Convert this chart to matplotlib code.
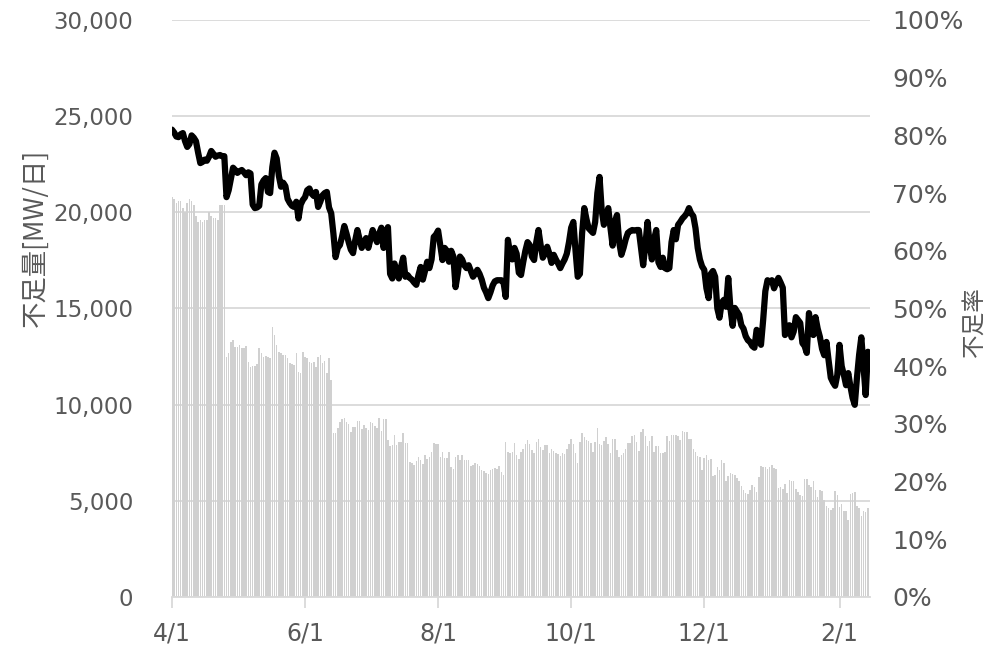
import pandas as pd
import matplotlib
matplotlib.use("Agg")
from matplotlib import pyplot as plt
from matplotlib.ticker import FuncFormatter

# daily shortage [MW/day], 4/1 .. 2/14
shortage = [
    20800, 20700, 20500, 20600, 20600, 20200, 20000, 20500, 20700, 20600,
    20400, 19800, 19500, 19600, 19500, 19600, 19600, 20000, 19800, 19700,
    19700, 19600, 20400, 20400, 20400,
    12500, 12700, 13260, 13360, 13000, 13000, 13100, 12950, 12950, 13050,
    12200, 11960, 12000, 12000, 12100, 12950, 12700, 12480, 12550, 12480,
    12400, 14040, 13620, 13100, 12740, 12700, 12580, 12580, 12400, 12170,
    12100, 12060, 12700, 11700, 11650, 12740, 12480, 12400, 12220, 12150,
    12220, 11960, 12480, 12600, 12150, 12250, 11650, 12440, 11280,
    8530, 8530, 8790, 9100, 9250, 9300, 9100, 9000, 8580, 8840,
    8840, 9150, 9150, 8740, 8950, 8790, 8680, 9100, 9050, 8890,
    8790, 9300, 8630, 9250, 9250, 8160, 7850, 7900, 8420, 7900,
    8060, 8060, 8530, 8000, 8000, 7020, 6970, 6860, 7070, 7280,
    7120, 6920, 7380, 7180, 7280, 7540, 8000, 7950, 7960, 7280,
    7540, 7230, 7230, 7540, 6760, 6660, 7280, 7380, 7120, 7380,
    7120, 7120, 7120, 6810, 6860, 6970, 6920, 6810, 6600, 6550,
    6450, 6390, 6600, 6650, 6700, 6650, 6810, 6500, 6340, 8060,
    7540, 7500, 7540, 8000, 7380, 7180, 7540, 7700, 7960, 8160,
    7960, 7640, 7500, 8060, 8220, 7800, 7640, 7900, 7900, 7480,
    7700, 7600, 7480, 7420, 7330, 7480, 7420, 7700, 7960, 8220,
    7960, 7480, 6970, 8060, 8530, 8320, 8160, 8120, 8000, 7540,
    8060, 8790, 7960, 7900, 8120, 8320, 7960, 7480, 8220, 8220,
    7640, 7280, 7380, 7480, 7700, 8000,
    8000, 8370, 8420, 8060, 7590, 8580, 8740, 8370, 7850, 8120,
    8370, 7540, 7850, 7850, 7490, 7490, 7540, 8370, 8120, 8420,
    8420, 8420, 8370, 8160, 8630, 8580, 8580, 8220, 8220, 7700,
    7540, 7330, 7280, 6600, 7230, 7380, 7120, 7150, 6290, 6340,
    6760, 6600, 7120, 6970, 6030, 6300, 6450, 6400, 6340, 6190,
    6030, 5770, 5560, 5410, 5360, 5560, 5820, 5720, 5460, 6240,
    6810, 6760, 6760, 6650, 6760, 6860, 6700, 6650, 5670, 5720,
    5620, 5900, 5410, 6080, 6030, 6030, 5620, 5460, 5300, 5250,
    6140, 6140, 5820, 5720, 6030, 5560, 5200, 5560, 5510, 5040,
    4730, 4630, 4520, 4630, 5510, 5300, 4680, 4840, 4470, 4470,
    4000, 5360, 5410, 5460, 4740, 4630, 4210, 4470, 4400, 4630,
]

# daily shortage rate [%]
rate = [
    81.0, 80.5, 79.8, 79.7, 80.2, 80.4, 79.0, 78.0, 78.5, 80.0,
    79.6, 79.0, 77.0, 75.2, 75.4, 75.8, 75.6, 76.3, 77.3, 76.8,
    76.3, 76.5, 76.6, 76.4, 76.4, 69.3, 70.5, 72.5, 74.4, 74.0,
    73.5, 73.8, 74.0, 73.6, 73.1, 73.6, 73.4, 68.0, 67.4, 67.5,
    67.8, 71.5, 72.2, 72.6, 70.2, 70.0, 74.5, 77.0, 76.0, 73.0,
    71.1, 71.8, 71.2, 69.0, 68.3, 67.8, 67.6, 68.5, 65.6, 68.0,
    68.8, 69.3, 70.5, 70.8, 69.9, 69.5, 70.2, 67.6, 68.5, 69.6,
    70.0, 70.2, 67.5, 66.5, 63.0, 58.9, 60.5, 61.0, 62.5, 64.3,
    63.0, 61.5, 60.2, 59.6, 61.8, 63.6, 62.0, 60.5, 61.5, 62.2,
    60.5, 62.0, 63.6, 62.5, 61.5, 63.0, 64.0, 60.5, 62.5, 64.1,
    56.0, 55.2, 57.8, 56.5, 55.2, 57.2, 58.8, 55.5, 55.8, 55.3,
    55.0, 54.5, 54.1, 55.8, 57.2, 55.0, 56.5, 58.1, 57.0, 58.5,
    62.4, 62.8, 63.5, 61.0, 58.4, 60.5, 60.0, 58.1, 60.0, 59.0,
    53.7, 56.0, 59.0, 58.5, 57.5, 57.0, 57.5, 56.5, 55.5, 56.0,
    56.7, 56.0, 55.0, 53.6, 52.8, 51.8, 52.8, 54.0, 54.7, 54.9,
    54.9, 54.9, 54.5, 52.0, 61.9, 59.5, 58.5, 60.5, 59.5, 56.2,
    55.8, 58.0, 60.0, 61.5, 61.0, 59.0, 58.4, 61.5, 63.6, 61.0,
    58.8, 59.5, 60.7, 59.5, 57.9, 59.3, 58.5, 57.8, 57.0, 57.8,
    58.5, 59.5, 61.5, 64.0, 65.0, 60.0, 55.5, 56.0, 63.0, 67.4,
    65.5, 63.9, 63.5, 63.1, 65.0, 70.0, 72.8, 67.0, 64.5, 66.0,
    67.4, 64.0, 60.9, 65.0, 66.2, 61.5, 59.3, 60.5, 62.0, 63.1,
    63.4, 63.6, 63.5, 63.6, 63.6, 60.5, 57.5, 61.0, 65.0, 61.0,
    58.5, 62.0, 63.6, 58.0, 57.2, 58.8, 57.0, 56.8, 57.0, 61.5,
    63.6, 62.0, 64.5, 65.0, 65.6, 66.0, 66.5, 67.4, 66.5, 66.0,
    63.9, 60.5, 58.5, 57.3, 56.7, 53.5, 51.8, 56.0, 56.5, 55.5,
    50.0, 48.4, 51.0, 51.5, 50.3, 55.3, 50.0, 47.0, 50.1, 49.5,
    48.9, 47.1, 46.5, 45.2, 44.5, 44.2, 43.5, 43.2, 46.3, 45.0,
    43.7, 48.0, 53.0, 54.9, 54.6, 54.9, 53.5, 54.5, 55.3, 54.5,
    53.6, 45.4, 46.0, 47.1, 45.0, 46.0, 48.5, 48.0, 47.5, 44.0,
    43.5, 42.3, 49.2, 46.5, 45.4, 48.5, 46.5, 45.1, 43.0, 41.9,
    44.2, 41.0, 38.0, 37.2, 36.6, 38.5, 43.7, 40.0, 38.5, 36.7,
    38.8, 36.5, 34.5, 33.3, 38.0, 42.0, 45.0, 40.0, 35.0, 42.5,
]

tick_dates = ["2021-04-01", "2021-06-01", "2021-08-01", "2021-10-01", "2021-12-01", "2022-02-01"]
tick_labels = ["4/1", "6/1", "8/1", "10/1", "12/1", "2/1"]

dates = pd.date_range("2021-04-01", periods=len(shortage), freq="D")

grey = "#595959"
jp = ["Noto Sans CJK JP", "DejaVu Sans"]
plt.rc("font", family="DejaVu Sans", size=16)

fig, ax = plt.subplots(figsize=(9.86, 6.47), dpi=100)
fig.subplots_adjust(left=0.1744, right=0.8824, bottom=0.0773, top=0.9691)

ax.bar(dates, shortage, width=0.7, color="#d0d0d0", zorder=2)
ax.set_ylim(0, 30000)
ax.set_yticks(range(0, 30001, 5000))
ax.yaxis.set_major_formatter(FuncFormatter(lambda v, p: f"{int(v):,}"))
ax.grid(axis="y", color="#d9d9d9", lw=1.3)
ax.set_axisbelow(True)
ax.set_xlim(dates[0], dates[-1] + pd.Timedelta(days=1))
ax.set_xticks(pd.to_datetime(tick_dates))
ax.set_xticklabels(tick_labels, fontsize=17)
ax.tick_params(axis="x", length=8, width=1.3, color="#d9d9d9", labelcolor=grey, pad=10)
ax.tick_params(axis="y", length=0, labelcolor=grey, labelsize=16.5, pad=28)
for s in ["top", "right", "left"]:
    ax.spines[s].set_visible(False)
ax.spines["bottom"].set_color("#d9d9d9")
ax.spines["bottom"].set_linewidth(1.3)
ax.set_ylabel("不足量[MW/日]", family=jp, fontsize=19, color=grey)
ax.yaxis.set_label_coords(-0.176, 0.622)

ax2 = ax.twinx()
ax2.plot(dates, rate, color="black", lw=4.5, solid_joinstyle="round", solid_capstyle="round")
ax2.set_ylim(0, 100)
ax2.set_yticks(range(0, 101, 10))
ax2.yaxis.set_major_formatter(FuncFormatter(lambda v, p: f"{int(v)}%"))
ax2.tick_params(axis="y", length=0, labelcolor=grey, labelsize=18, pad=16)
for s in ax2.spines.values():
    s.set_visible(False)
ax2.set_ylabel("不足率", family=jp, fontsize=17, color=grey)
ax2.yaxis.set_label_coords(1.133, 0.477)

fig.savefig("out.png", dpi=100)
